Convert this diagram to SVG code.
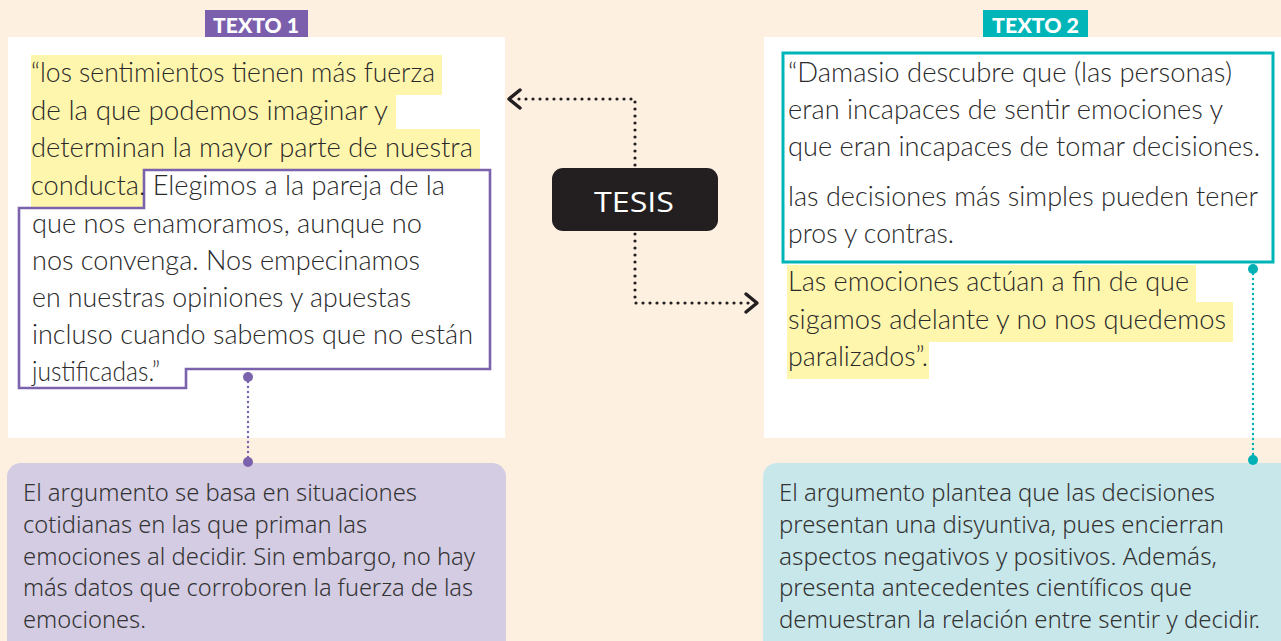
<svg xmlns="http://www.w3.org/2000/svg" width="1281" height="641" viewBox="0 0 1281 641">
<style>
.q{font-family:Lato,"Open Sans",sans-serif;font-weight:300;font-size:28px;fill:#2a2a2a}
.s{font-family:"Noto Sans","Open Sans",sans-serif;font-weight:300;font-size:23px;fill:#333}
.lab{font-family:Lato,"Open Sans",sans-serif;font-weight:900;font-size:20px;fill:#fff}
.hl{fill:#fff6ad}
.dots{fill:none;stroke:#231f20;stroke-width:3.2;stroke-linecap:round;stroke-dasharray:0 7}
.chev{fill:none;stroke:#231f20;stroke-width:3.5;stroke-linecap:round;stroke-linejoin:round}
</style>
<rect x="0" y="0" width="1281" height="641" fill="#fdf0e1"/>

<g id="texto1">
<rect x="8" y="37" width="497" height="401" fill="#fff"/>
<rect x="205" y="10" width="103" height="27" fill="#7b5fac"/>
<text class="lab" x="213" y="33" textLength="86" lengthAdjust="spacingAndGlyphs">TEXTO 1</text>
<rect class="hl" x="31" y="55" width="411" height="40"/>
<rect class="hl" x="31" y="95" width="365" height="34"/>
<rect class="hl" x="31" y="129" width="449" height="40"/>
<rect class="hl" x="31" y="169" width="113" height="38"/>
<path d="M144 170 H490 V369 H186 V388 H19 V208 H144 Z" fill="none" stroke="#7b62ad" stroke-width="2.6"/>
<text class="q" x="31" y="82" textLength="404" lengthAdjust="spacingAndGlyphs">“los sentimientos tienen más fuerza</text>
<text class="q" x="31" y="120" textLength="357" lengthAdjust="spacingAndGlyphs">de la que podemos imaginar y</text>
<text class="q" x="31" y="157" textLength="442" lengthAdjust="spacingAndGlyphs">determinan la mayor parte de nuestra</text>
<text class="q" x="31" y="195" textLength="414" lengthAdjust="spacingAndGlyphs">conducta. Elegimos a la pareja de la</text>
<text class="q" x="32" y="233" textLength="390" lengthAdjust="spacingAndGlyphs">que nos enamoramos, aunque no</text>
<text class="q" x="32" y="270" textLength="388" lengthAdjust="spacingAndGlyphs">nos convenga. Nos empecinamos</text>
<text class="q" x="32" y="307" textLength="379" lengthAdjust="spacingAndGlyphs">en nuestras opiniones y apuestas</text>
<text class="q" x="32" y="344" textLength="441" lengthAdjust="spacingAndGlyphs">incluso cuando sabemos que no están</text>
<text class="q" x="32" y="381" textLength="128" lengthAdjust="spacingAndGlyphs">justificadas.”</text>
</g>

<g id="texto2">
<rect x="764" y="37" width="517" height="401" fill="#fff"/>
<rect x="983" y="10" width="105" height="27" fill="#00b5b8"/>
<text class="lab" x="992" y="33" textLength="87" lengthAdjust="spacingAndGlyphs">TEXTO 2</text>
<rect class="hl" x="787" y="265" width="409" height="37"/>
<rect class="hl" x="787" y="302" width="446" height="40"/>
<rect class="hl" x="787" y="342" width="142" height="37"/>
<rect x="783" y="53" width="490" height="209" fill="none" stroke="#00b5b8" stroke-width="3"/>
<text class="q" x="788" y="82" textLength="444" lengthAdjust="spacingAndGlyphs">“Damasio descubre que (las personas)</text>
<text class="q" x="788" y="119" textLength="435" lengthAdjust="spacingAndGlyphs">eran incapaces de sentir emociones y</text>
<text class="q" x="788" y="156" textLength="472" lengthAdjust="spacingAndGlyphs">que eran incapaces de tomar decisiones.</text>
<text class="q" x="788" y="206" textLength="470" lengthAdjust="spacingAndGlyphs">las decisiones más simples pueden tener</text>
<text class="q" x="788" y="243" textLength="166" lengthAdjust="spacingAndGlyphs">pros y contras.</text>
<text class="q" x="788" y="291" textLength="401" lengthAdjust="spacingAndGlyphs">Las emociones actúan a fin de que</text>
<text class="q" x="788" y="329" textLength="438" lengthAdjust="spacingAndGlyphs">sigamos adelante y no nos quedemos</text>
<text class="q" x="788" y="366" textLength="140" lengthAdjust="spacingAndGlyphs">paralizados”.</text>
</g>

<g id="tesis">
<rect x="552" y="168" width="166" height="63" rx="11" fill="#231f20"/>
<text x="634" y="212" text-anchor="middle" font-family="'Open Sans',sans-serif" font-size="27" fill="#fff" textLength="80" lengthAdjust="spacingAndGlyphs">TESIS</text>
</g>

<g id="resumen1">
<rect x="7" y="463" width="499" height="200" rx="14" fill="#d3cce3"/>
<text class="s" x="23" y="501" textLength="394" lengthAdjust="spacingAndGlyphs">El argumento se basa en situaciones</text>
<text class="s" x="23" y="533" textLength="344" lengthAdjust="spacingAndGlyphs">cotidianas en las que priman las</text>
<text class="s" x="23" y="565" textLength="452" lengthAdjust="spacingAndGlyphs">emociones al decidir. Sin embargo, no hay</text>
<text class="s" x="23" y="596" textLength="450" lengthAdjust="spacingAndGlyphs">más datos que corroboren la fuerza de las</text>
<text class="s" x="23" y="628" textLength="123" lengthAdjust="spacingAndGlyphs">emociones.</text>
</g>

<g id="resumen2">
<rect x="763" y="463" width="540" height="200" rx="14" fill="#c8e7ea"/>
<text class="s" x="779" y="501" textLength="436" lengthAdjust="spacingAndGlyphs">El argumento plantea que las decisiones</text>
<text class="s" x="779" y="533" textLength="445" lengthAdjust="spacingAndGlyphs">presentan una disyuntiva, pues encierran</text>
<text class="s" x="779" y="565" textLength="438" lengthAdjust="spacingAndGlyphs">aspectos negativos y positivos. Además,</text>
<text class="s" x="779" y="596" textLength="413" lengthAdjust="spacingAndGlyphs">presenta antecedentes científicos que</text>
<text class="s" x="779" y="628" textLength="481" lengthAdjust="spacingAndGlyphs">demuestran la relación entre sentir y decidir.</text>
</g>

<g id="connectors">
<path class="dots" d="M635 165 V99 H514"/>
<path class="chev" d="M520 90 L509 99 L520 108"/>
<path class="dots" d="M635 234 V303 H752"/>
<path class="chev" d="M746 294 L757 303 L746 312"/>
<path d="M248 377 V462" fill="none" stroke="#7b62ad" stroke-width="2.4" stroke-linecap="round" stroke-dasharray="0 5"/>
<circle cx="248" cy="377" r="5" fill="#7b62ad"/>
<circle cx="248" cy="462" r="5" fill="#7b62ad"/>
<path d="M1253 269 V460" fill="none" stroke="#00b0b5" stroke-width="2.4" stroke-linecap="round" stroke-dasharray="0 5"/>
<circle cx="1253" cy="269" r="5" fill="#00b0b5"/>
<circle cx="1253" cy="460" r="5" fill="#00b0b5"/>
</g>
</svg>
